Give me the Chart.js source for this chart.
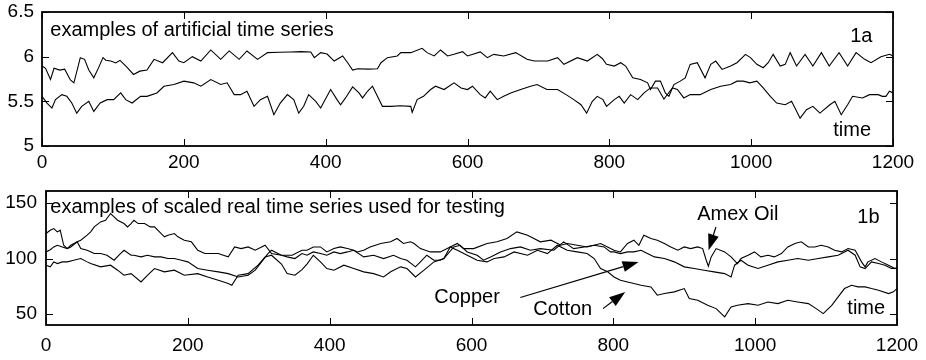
<!DOCTYPE html>
<html>
<head>
<meta charset="utf-8">
<script src="https://cdn.jsdelivr.net/npm/chart.js@4.4.1/dist/chart.umd.min.js"></script>
<style>
  html, body { margin: 0; padding: 0; background: #fff; }
  #wrap { position: relative; width: 926px; height: 360px; }
  canvas { position: absolute; left: 0; }
</style>
</head>
<body>
<div id="wrap">
  <canvas id="chart1a" width="926" height="180" style="top:0px"></canvas>
  <canvas id="chart1b" width="926" height="180" style="top:180px"></canvas>
</div>
<script>
// tick labels
var xTicks = [0, 200, 400, 600, 800, 1000, 1200];
var yTicks1a = [5, 5.5, 6, 6.5];
var yTicks1b = [50, 100, 150];

// 1a: artificial series (time, value)
var upperT = [0,5,12,17,25,32,40,45,54,60,66,73,80,86,90,97,104,110,120,129,138,148,158,170,184,193,200,212,224,238,252,264,278,289,304,318,335,350,365,379,384,393,402,412,424,431,438,445,460,473,478,487,501,506,520,536,543,553,562,572,581,593,600,618,628,637,651,668,684,694,713,727,736,755,769,783,790,796,807,816,823,833,844,854,858,865,872,879,884,891,900,907,914,924,935,943,950,959,971,980,992,999,1008,1017,1024,1031,1041,1048,1055,1064,1076,1087,1099,1110,1124,1136,1148,1160,1169,1183,1195,1200];
var upperV = [5.895,5.87,5.744,5.87,5.85,5.86,5.74,5.707,5.989,5.97,5.85,5.763,5.88,5.989,5.96,5.951,5.93,5.959,5.88,5.801,5.838,5.85,5.97,5.932,6.045,5.951,5.932,6.0,5.951,6.075,5.97,6.064,5.97,6.064,5.97,6.045,6.05,6.053,6.056,6.053,5.989,6.045,6.03,5.951,6.008,5.932,5.85,5.865,5.86,5.865,5.932,5.989,6.008,6.045,6.045,6.094,6.045,6.008,6.075,6.008,6.026,6.056,6.008,6.053,5.989,6.026,6.008,6.045,5.97,5.951,5.951,5.989,5.914,5.989,5.951,6.026,5.98,5.914,5.895,5.932,5.895,5.763,5.744,5.707,5.632,5.726,5.726,5.594,5.556,5.688,5.726,5.763,5.914,5.932,5.763,5.914,5.951,5.857,5.895,5.932,6.026,5.989,5.914,5.876,5.932,6.026,5.895,5.914,6.045,5.895,6.026,5.895,6.045,5.895,6.045,5.895,6.045,5.97,5.932,5.998,6.026,6.008];

var lowerT = [0,7,14,19,28,35,42,49,56,66,73,82,92,101,111,118,127,139,148,162,172,186,200,214,224,238,252,261,271,280,289,299,308,318,327,336,346,355,362,369,376,386,393,398,407,416,421,428,438,447,452,459,466,473,480,492,505,520,522,529,538,548,555,567,581,591,600,607,618,625,632,642,651,661,675,689,698,712,727,739,750,760,768,776,783,791,796,807,814,821,830,840,849,858,868,877,889,896,905,914,928,943,957,971,980,989,998,1008,1017,1027,1036,1048,1057,1069,1078,1087,1097,1111,1118,1127,1136,1143,1157,1167,1179,1185,1190,1195,1200];
var lowerV = [5.556,5.481,5.425,5.519,5.575,5.556,5.481,5.368,5.444,5.5,5.387,5.481,5.519,5.519,5.594,5.519,5.481,5.556,5.556,5.594,5.669,5.688,5.726,5.707,5.669,5.744,5.688,5.707,5.575,5.575,5.613,5.444,5.519,5.556,5.35,5.481,5.575,5.519,5.368,5.444,5.575,5.5,5.425,5.5,5.632,5.519,5.462,5.538,5.662,5.594,5.538,5.613,5.669,5.556,5.444,5.444,5.45,5.444,5.376,5.519,5.556,5.632,5.669,5.632,5.707,5.65,5.632,5.669,5.575,5.538,5.613,5.519,5.556,5.594,5.632,5.669,5.688,5.632,5.632,5.575,5.519,5.462,5.368,5.5,5.556,5.519,5.444,5.519,5.556,5.481,5.575,5.519,5.594,5.65,5.65,5.526,5.65,5.632,5.538,5.575,5.575,5.632,5.669,5.688,5.726,5.726,5.707,5.726,5.65,5.556,5.481,5.462,5.5,5.312,5.406,5.444,5.368,5.462,5.5,5.35,5.462,5.556,5.538,5.575,5.575,5.556,5.556,5.613,5.594];

// 1b: scaled real series
var amexT = [0,6,11,16,20,25,30,35,44,49,58,63,68,77,84,91,96,101,110,115,120,124,130,139,147,153,160,167,172,181,186,195,205,214,224,233,243,250,257,266,275,285,295,309,318,332,347,361,368,377,387,396,406,415,425,434,439,448,457,472,486,495,504,514,519,528,542,556,570,580,589,603,622,636,650,664,679,688,697,712,726,735,749,763,782,796,801,810,820,829,836,843,853,862,872,881,891,900,909,919,926,931,934,938,945,957,966,975,980,990,999,1008,1018,1027,1037,1046,1056,1065,1075,1084,1093,1103,1112,1122,1131,1141,1150,1155,1159,1169,1178,1188,1197,1200];
var amexV = [122.6,125.6,127.1,124.1,125.6,112.0,109.0,110.5,115.1,116.6,121.1,124.1,128.6,133.1,134.6,140.7,137.6,134.6,131.6,128.6,131.6,134.6,131.6,131.6,128.6,128.6,124.1,119.6,121.1,122.6,119.6,116.6,115.1,107.5,104.5,104.5,104.5,103.0,101.5,110.5,109.0,110.5,107.5,112.0,104.5,103.0,103.0,107.5,107.5,110.5,110.5,106.0,109.0,110.5,109.0,107.5,106.0,107.5,110.5,113.6,115.1,118.1,113.6,115.1,113.6,109.0,106.0,106.0,110.5,113.6,109.0,109.0,113.6,115.1,118.1,124.1,121.1,118.1,115.1,116.6,112.0,113.6,112.0,110.5,113.6,109.0,107.5,106.0,113.6,116.6,112.0,121.1,118.1,116.6,113.6,110.5,107.5,110.5,109.0,110.5,109.0,98.5,93.1,101.5,109.0,106.0,101.5,95.5,100.0,103.0,106.0,101.5,103.0,101.5,104.5,110.5,113.6,115.1,110.5,110.5,112.0,110.5,107.5,106.0,109.0,107.5,97.0,92.5,97.0,100.0,97.0,94.0,91.0,92.0];

var copperT = [0,6,11,16,23,30,35,44,49,58,68,77,86,96,105,110,120,124,134,143,153,162,172,181,191,200,214,228,243,257,271,285,295,304,313,318,332,340,351,361,368,377,387,396,406,415,425,434,448,462,476,490,500,509,521,528,537,547,556,561,575,584,594,608,617,627,641,655,669,683,697,716,730,744,759,773,787,796,801,810,820,829,839,848,858,872,886,900,914,928,942,957,966,971,980,990,1004,1018,1032,1046,1060,1075,1089,1103,1117,1131,1141,1148,1155,1164,1174,1183,1192,1200];
var copperV = [106.0,108.0,110.5,112.0,110.5,109.0,112.0,115.1,109.0,107.5,104.5,104.5,103.0,98.5,104.5,107.5,103.0,103.0,101.5,103.0,101.5,101.5,100.0,100.0,98.5,97.0,91.0,89.5,88.0,86.4,83.4,84.9,89.5,97.0,104.5,107.5,103.0,101.5,100.0,104.5,103.0,106.0,104.5,103.0,106.0,104.5,106.0,107.5,101.5,103.0,100.0,103.0,100.0,98.5,92.5,97.0,103.0,98.5,98.5,100.0,110.5,112.0,106.0,103.0,98.5,101.5,106.0,109.0,110.5,107.5,109.0,107.5,115.1,109.0,110.5,112.0,110.5,106.0,106.0,104.5,106.0,106.0,107.5,104.5,101.5,100.0,97.0,92.5,91.0,89.5,88.0,86.4,83.4,94.0,98.5,94.0,91.0,94.0,97.0,98.5,100.0,98.5,100.0,101.5,103.0,107.5,103.0,92.5,91.0,97.0,95.5,94.0,91.0,91.0];

var cottonT = [0,6,11,16,23,30,39,49,58,63,77,91,101,110,120,134,143,153,167,181,195,214,228,243,257,262,271,285,299,309,318,332,340,351,361,368,377,387,396,406,420,434,448,462,476,486,500,509,521,533,547,561,570,580,594,608,622,632,646,660,679,693,707,721,735,749,763,773,782,792,801,810,820,829,839,853,862,872,886,900,907,919,933,945,957,966,975,990,1004,1018,1032,1046,1060,1075,1086,1096,1108,1117,1126,1136,1145,1155,1164,1174,1188,1195,1200];
var cottonV = [94.0,92.5,97.0,95.5,97.0,97.0,98.5,100.0,97.0,95.5,92.5,94.0,89.5,84.9,86.4,78.9,84.9,91.0,88.0,89.5,84.9,86.4,83.4,80.4,77.4,75.9,84.9,86.4,94.0,101.5,103.0,95.0,86.4,85.0,90.0,95.0,103.0,97.0,91.0,89.5,94.0,91.0,88.0,86.4,83.4,88.0,92.5,91.0,83.4,89.5,97.0,100.0,110.5,107.5,103.0,98.5,97.0,100.0,101.5,106.0,103.0,107.5,104.5,112.0,107.5,106.0,104.5,100.0,91.0,88.0,83.4,80.4,78.9,77.4,75.9,74.4,66.9,68.4,69.9,72.9,63.9,62.3,57.8,54.8,47.3,56.3,57.8,59.3,57.8,60.8,59.3,62.3,60.8,59.3,54.8,50.3,57.8,65.4,72.9,75.9,74.4,74.4,72.9,71.4,68.4,69.9,72.9];

function pts(t, v) {
  if (t.length != v.length) console.error("length mismatch", t.length, v.length);
  return t.map(function (x, i) { return { x: x, y: v[i] }; });
}

function line(label, t, v) {
  return {
    label: label,
    data: pts(t, v),
    borderColor: '#000',
    borderWidth: 1.1,
    pointRadius: 0,
    tension: 0,
    fill: false
  };
}

var FONT = '"Liberation Sans", Arial, Helvetica, sans-serif';

// frame, inward ticks and the text / arrow notes
var framePlugin = {
  id: 'frame',
  afterDatasetsDraw: function (chart, args, opts) {
    var ctx = chart.ctx, a = chart.chartArea;
    var xs = chart.scales.x, ys = chart.scales.y;
    ctx.save();
    ctx.strokeStyle = '#000';
    ctx.lineWidth = 1;
    ctx.beginPath();
    xs.ticks.forEach(function (t) {
      var px = Math.round(xs.getPixelForValue(t.value)) + 0.5;
      ctx.moveTo(px, a.bottom); ctx.lineTo(px, a.bottom - 7);
      ctx.moveTo(px, a.top); ctx.lineTo(px, a.top + 7);
    });
    ys.ticks.forEach(function (t) {
      var py = Math.round(ys.getPixelForValue(t.value)) + 0.5;
      ctx.moveTo(a.left, py); ctx.lineTo(a.left + 7, py);
      ctx.moveTo(a.right, py); ctx.lineTo(a.right - 7, py);
    });
    ctx.stroke();
    ctx.lineWidth = 1.8;
    ctx.strokeRect(a.left, a.top, a.right - a.left, a.bottom - a.top);

    ctx.fillStyle = '#000';
    ctx.textAlign = 'left';
    ctx.textBaseline = 'alphabetic';
    ctx.font = '20px ' + FONT;
    (opts.texts || []).forEach(function (n) {
      ctx.fillText(n.text, xs.getPixelForValue(n.x), ys.getPixelForValue(n.y));
    });

    (opts.arrows || []).forEach(function (r) {
      var x0 = xs.getPixelForValue(r.from[0]), y0 = ys.getPixelForValue(r.from[1]);
      var x1 = xs.getPixelForValue(r.to[0]), y1 = ys.getPixelForValue(r.to[1]);
      var ang = Math.atan2(y1 - y0, x1 - x0);
      var hl = 16, hw = 5.5;
      var bx = x1 - hl * Math.cos(ang), by = y1 - hl * Math.sin(ang);
      ctx.lineWidth = 1.2;
      ctx.beginPath();
      ctx.moveTo(x0, y0); ctx.lineTo(bx, by);
      ctx.stroke();
      ctx.beginPath();
      ctx.moveTo(x1, y1);
      ctx.lineTo(bx + hw * Math.sin(ang), by - hw * Math.cos(ang));
      ctx.lineTo(bx - hw * Math.sin(ang), by + hw * Math.cos(ang));
      ctx.closePath();
      ctx.fill();
    });
    ctx.restore();
  }
};

function makeChart(id, datasets, yMin, yMax, yTicks, cfg) {
  return new Chart(document.getElementById(id), {
    type: 'line',
    data: { datasets: datasets },
    plugins: [framePlugin],
    options: {
      responsive: false,
      animation: false,
      devicePixelRatio: 1,
      layout: { padding: { top: cfg.top, right: cfg.right, left: 0, bottom: 0 } },
      plugins: {
        legend: { display: false },
        tooltip: { enabled: false },
        frame: { texts: cfg.texts, arrows: cfg.arrows }
      },
      scales: {
        x: {
          type: 'linear',
          min: 0,
          max: 1200,
          grid: { display: false, drawTicks: false },
          border: { display: false },
          afterBuildTicks: function (s) { s.ticks = xTicks.map(function (v) { return { value: v }; }); },
          afterFit: function (s) {
            s.height = cfg.xh;
            s.paddingLeft = 0; s.paddingRight = 0;
          },
          ticks: {
            color: '#000',
            font: { family: FONT, size: 19 },
            padding: cfg.xpad,
            maxRotation: 0,
            autoSkip: false,
            callback: function (v) { return String(v); }
          }
        },
        y: {
          min: yMin,
          max: yMax,
          grid: { display: false, drawTicks: false },
          border: { display: false },
          afterBuildTicks: function (s) { s.ticks = yTicks.map(function (v) { return { value: v }; }); },
          afterFit: function (s) {
            s.width = cfg.yw;
            s.paddingTop = 0; s.paddingBottom = 0;
          },
          ticks: {
            color: '#000',
            font: { family: FONT, size: 19 },
            padding: cfg.ypad,
            callback: function (v) { return String(v); }
          }
        }
      }
    }
  });
}

makeChart('chart1a', [line('upper', upperT, upperV), line('lower', lowerT, lowerV)], 5, 6.5, yTicks1a, {
  top: 12, right: 33, yw: 42, xh: 34, xpad: 5, ypad: 8,
  texts: [
    { text: 'examples of artificial time series', x: 11.7, y: 6.227 },
    { text: '1a', x: 1139.7, y: 6.168 },
    { text: 'time', x: 1115.8, y: 5.115 }
  ],
  arrows: []
});

makeChart('chart1b', [line('Amex Oil', amexT, amexV), line('Copper', copperT, copperV), line('Cotton', cottonT, cottonV)], 40, 161, yTicks1b, {
  top: 11, right: 29, yw: 46, xh: 35, xpad: 9, ypad: 9,
  texts: [
    { text: 'examples of scaled real time series used for testing', x: 6.1, y: 140.7 },
    { text: '1b', x: 1144, y: 131.9 },
    { text: 'Amex Oil', x: 918.3, y: 134.6 },
    { text: 'Copper', x: 547.5, y: 59.9 },
    { text: 'Cotton', x: 687.1, y: 48.8 },
    { text: 'time', x: 1130, y: 50.3 }
  ],
  arrows: [
    { from: [668.8, 64.8], to: [835.6, 96.9] },
    { from: [785.4, 54.8], to: [816.8, 69.8] },
    { from: [944.7, 128.5], to: [934.3, 107.5] }
  ]
});
</script>
</body>
</html>
